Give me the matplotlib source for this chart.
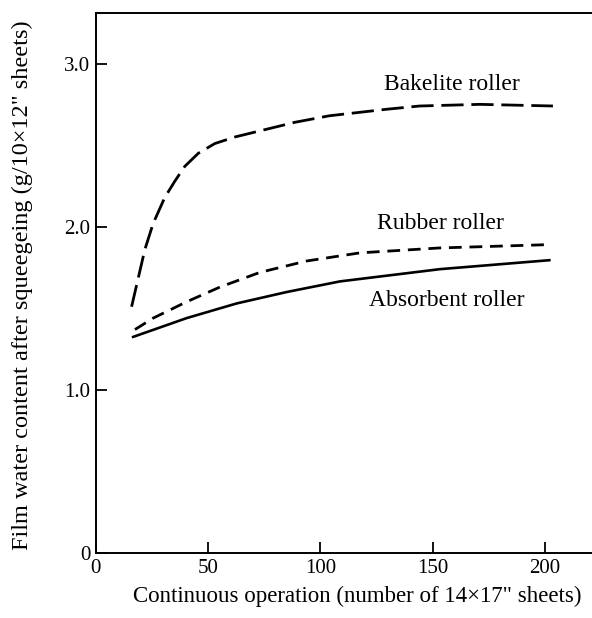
import numpy as np
import matplotlib
matplotlib.use("Agg")
import matplotlib.pyplot as plt

plt.rcParams['font.family'] = ['Liberation Serif', 'DejaVu Serif']

# values
x_bakelite = [15.9, 21.8, 25.5, 30.7, 35.2, 39.6, 45.6, 53, 61.9, 73.8, 88.6,
              104, 129.5, 144.3, 171, 203.6]
y_bakelite = [1.51, 1.86, 2.02, 2.18, 2.28, 2.37, 2.45, 2.51, 2.55, 2.59, 2.64,
              2.68, 2.72, 2.74, 2.75, 2.74]

x_rubber = [17.4, 25.5, 40.4, 55.2, 73, 93.8, 117.6, 153, 200.7]
y_rubber = [1.37, 1.44, 1.54, 1.63, 1.72, 1.79, 1.84, 1.87, 1.89]

x_absorb = [16.6, 40.4, 62.7, 85, 108.7, 153.2, 202]
y_absorb = [1.325, 1.44, 1.53, 1.60, 1.665, 1.74, 1.795]

xticks = [0, 50, 100, 150, 200]
yticks = [0, 1.0, 2.0, 3.0]
ytick_labels = ['0', '1.0', '2.0', '3.0']

fig = plt.figure(figsize=(5.92, 6.18), dpi=100)
ax = fig.add_axes([0.162, 0.105, 0.838, 0.874])

ax.plot(x_bakelite, y_bakelite, color='black', lw=2.0, dashes=(8, 2.8))
ax.plot(x_rubber, y_rubber, color='black', lw=2.0, dashes=(4.6, 2.8))
ax.plot(x_absorb, y_absorb, color='black', lw=1.9)

# curve labels
ax.text(158.6, 2.835, 'Bakelite roller', ha='center', va='baseline', fontsize=17)
ax.text(153.7, 1.984, 'Rubber roller', ha='center', va='baseline', fontsize=17)
ax.text(156.2, 1.513, 'Absorbent roller', ha='center', va='baseline', fontsize=17)

ax.set_xlim(0, 221)
ax.set_ylim(0, 3.31)
ax.set_xticks(xticks)
ax.set_yticks(yticks)
ax.set_yticklabels(ytick_labels)
ax.tick_params(direction='in', length=8, width=1.3, labelsize=15, pad=4)
ax.spines['right'].set_visible(False)
for s in ['left', 'top', 'bottom']:
    ax.spines[s].set_linewidth(1.4)

fig.text(357 / 592, 1 - 596 / 618, 'Continuous operation (number of 14\u00d717" sheets)',
         ha='center', va='center', fontsize=16.5)
fig.text(22 / 592, 1 - 285 / 618, 'Film water content after squeegeing (g/10\u00d712" sheets)',
         ha='center', va='center', rotation=90, fontsize=17.5)

fig.savefig('out.png', dpi=100)
